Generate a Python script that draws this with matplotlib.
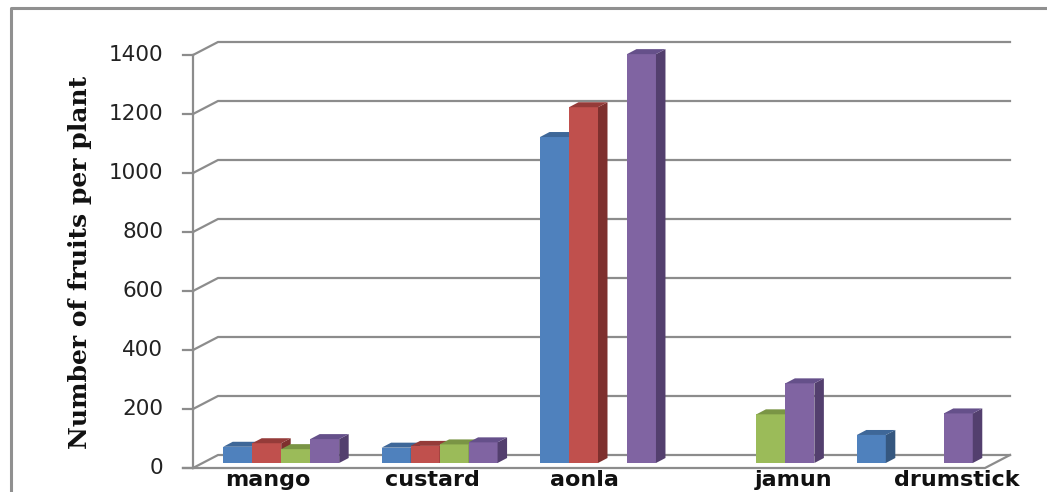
import numpy as np
import matplotlib
matplotlib.use("Agg")
import matplotlib.pyplot as plt
from matplotlib.patches import Polygon
from matplotlib.transforms import IdentityTransform

categories = ["mango", "custard", "aonla", "jamun", "drumstick"]
series_1 = [55, 52, 1105, np.nan, 95]
series_2 = [67, 58, 1206, np.nan, np.nan]
series_3 = [47, 63, np.nan, 165, np.nan]
series_4 = [81, 70, 1386, 270, 168]
y_ticks = [0, 200, 400, 600, 800, 1000, 1200, 1400]

series = [series_1, series_2, series_3, series_4]
front_cols = ["#4F81BD", "#C0504D", "#9BBB59", "#8064A2"]
side_cols = ["#35577F", "#7E302E", "#6C8441", "#533F6E"]
top_cols = ["#3E6798", "#953B39", "#7A9545", "#65508A"]

W, H = 1047, 492
fig = plt.figure(figsize=(W / 100, H / 100), dpi=100)
fig.patch.set_facecolor("white")

# front floor edge: x 193..985, y 468 (from top); 1400 sits at y 55
ax = fig.add_axes([193 / W, (H - 468) / H, 792 / W, 413 / H])
ax.set_xlim(-0.5, 4.5)
ax.set_ylim(0, 1400)
ax.axis("off")

grid_c = "#8C8C8C"
depth = (25, 13)       # back wall offset in pixels (right, up)
bar_off = (9, 5)       # bars sit a little behind the front edge
bar_depth = (9.5, 5)
bw = 0.183


def px(x, y):
    return ax.transData.transform((x, y))


def poly(pts, fc, z=3):
    p = Polygon(pts, closed=True, facecolor=fc, edgecolor="none",
                transform=IdentityTransform(), zorder=z)
    fig.add_artist(p)


def line(pts, c=grid_c, lw=1.6, z=2):
    pts = np.asarray(pts)
    l = plt.Line2D(pts[:, 0], pts[:, 1], color=c, linewidth=lw,
                   transform=IdentityTransform(), zorder=z)
    fig.add_artist(l)


# outer frame
line([(11, H - 492), (11, H - 8), (1047, H - 8)], c="#909090", lw=2.2)

# gridlines on the back wall, with the slanted link to the left axis
x_right = px(4.5, 0)[0]
for t in y_ticks:
    x0, y0 = px(-0.5, t)
    line([(x0 - 10, y0), (x0, y0)])
    line([(x0, y0), (x0 + depth[0], y0 + depth[1]),
          (x_right + depth[0], y0 + depth[1])])
    fig.text((x0 - 30) / W, y0 / H, str(t), ha="right", va="center",
             fontsize=15.5, color="#222222", family="DejaVu Sans")

# left axis and floor front edge
x0, y0 = px(-0.5, 0)
_, ytop = px(-0.5, 1400)
line([(x0, y0), (x0, ytop)])
line([(x0 - 10, y0), (x_right, y0), (x_right + depth[0], y0 + depth[1])])

# bars
for i in range(len(categories)):
    for k, vals in enumerate(series):
        v = vals[i]
        if np.isnan(v):
            continue
        xl = i + (k - 2) * bw
        xr = xl + bw
        off = np.array(bar_off)
        dd = np.array(bar_depth)
        a = px(xl, 0) + off
        b = px(xr, 0) + off
        c = px(xr, v) + off
        d = px(xl, v) + off
        z = 4 + i * 4 + k
        poly([a, b, c, d], front_cols[k], z=z)
        poly([b, b + dd, c + dd, c], side_cols[k], z=z)
        poly([d, c, c + dd, d + dd], top_cols[k], z=z)

# category labels
label_shift = [-0.03, 0.01, -0.03, 0.29, 0.32]
for i, name in enumerate(categories):
    xl = px(i + label_shift[i], 0)[0]
    fig.text(xl / W, 6 / H, name, ha="center", va="baseline",
             fontsize=16, fontweight="bold", color="#111111",
             family="DejaVu Sans")

fig.text(80 / W, 1 - 262 / H, "Number of fruits per plant", rotation=90,
         ha="center", va="center", fontsize=18, fontweight="bold",
         family="DejaVu Serif", color="#111111")

fig.savefig("out.png", dpi=100, facecolor="white")
